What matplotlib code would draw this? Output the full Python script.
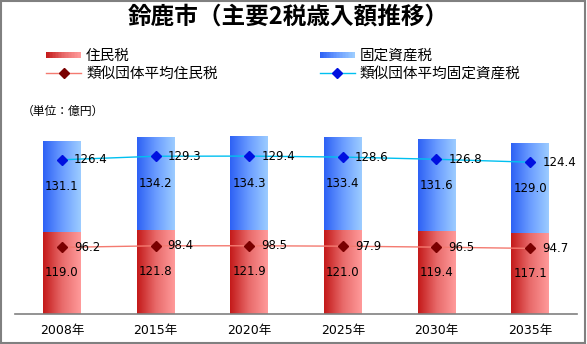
import numpy as np
import matplotlib
matplotlib.use("Agg")
import matplotlib.pyplot as plt
from matplotlib.patches import Rectangle
from matplotlib.lines import Line2D
from matplotlib.legend_handler import HandlerBase
from matplotlib.colors import LinearSegmentedColormap

plt.rcParams['font.family'] = ['Noto Sans CJK JP', 'DejaVu Sans']
NUM_FONT = ['DejaVu Sans', 'Noto Sans CJK JP']

# --- data (億円) ---
years = ["2008年", "2015年", "2020年", "2025年", "2030年", "2035年"]
juminzei = [119.0, 121.8, 121.9, 121.0, 119.4, 117.1]          # 住民税
koteishisanzei = [131.1, 134.2, 134.3, 133.4, 131.6, 129.0]    # 固定資産税
avg_juminzei = [96.2, 98.4, 98.5, 97.9, 96.5, 94.7]            # 類似団体平均住民税
avg_koteishisanzei = [126.4, 129.3, 129.4, 128.6, 126.8, 124.4]  # 類似団体平均固定資産税

title = "鈴鹿市（主要2税歳入額推移）"
unit_label = "（単位：億円）"

red_cmap = LinearSegmentedColormap.from_list("red_grad", ["#c41a1a", "#e86a6a", "#ff9a9a"])
blue_cmap = LinearSegmentedColormap.from_list("blue_grad", ["#2e62f5", "#6a9cff", "#9cccff"])
red_line = "#f47a70"
red_marker = "#7a0000"
blue_line = "#00c0f0"
blue_marker = "#0010e0"

W, H = 587, 344
fig = plt.figure(figsize=(W / 100, H / 100), dpi=100)
ax = fig.add_axes([15 / W, (H - 314) / H, 562 / W, 194 / H])

x = np.arange(len(years))
bar_w = 0.405
grad = np.linspace(0, 1, 64).reshape(1, -1)


def gradient_bar(ax, xc, bottom, height, cmap):
    ax.imshow(grad, cmap=cmap, aspect="auto", interpolation="bilinear",
              extent=(xc - bar_w / 2, xc + bar_w / 2, bottom, bottom + height),
              origin="lower", zorder=2)


for xi, r, b in zip(x, juminzei, koteishisanzei):
    gradient_bar(ax, xi, 0, r, red_cmap)
    gradient_bar(ax, xi, r, b, blue_cmap)
    ax.text(xi, r / 2, f"{r:.1f}", ha="center", va="center", fontsize=8.5,
            family=NUM_FONT, zorder=5)
    ax.text(xi, r + b / 2, f"{b:.1f}", ha="center", va="center", fontsize=8.5,
            family=NUM_FONT, zorder=5)

# average lines (stacked like the bars)
avg_stack = np.array(avg_juminzei) + np.array(avg_koteishisanzei)
ax.plot(x, avg_juminzei, color=red_line, lw=1.0, marker="D", ms=5.5,
        mfc=red_marker, mec=red_marker, zorder=4)
ax.plot(x, avg_stack, color=blue_line, lw=1.0, marker="D", ms=5.5,
        mfc=blue_marker, mec=blue_marker, zorder=4)
for xi, v in zip(x, avg_juminzei):
    ax.text(xi + 0.13, v, f"{v:.1f}", ha="left", va="center", fontsize=8.5,
            family=NUM_FONT, zorder=5)
for xi, v, s in zip(x, avg_koteishisanzei, avg_stack):
    ax.text(xi + 0.13, s, f"{v:.1f}", ha="left", va="center", fontsize=8.5,
            family=NUM_FONT, zorder=5)

ax.set_xlim(-0.5, len(years) - 0.5)
ax.set_ylim(0, 280)
ax.set_xticks(x)
ax.set_xticklabels(years, fontsize=9, family=NUM_FONT)
ax.tick_params(axis="x", length=0, pad=7)
ax.set_yticks([])
for side in ("top", "left", "right"):
    ax.spines[side].set_visible(False)
ax.spines["bottom"].set_color("#808080")
ax.spines["bottom"].set_linewidth(1.2)
ax.patch.set_alpha(0)


class GradientHandler(HandlerBase):
    def __init__(self, cmap, n=24):
        super().__init__()
        self.cmap = cmap
        self.n = n

    def create_artists(self, legend, orig_handle, xdescent, ydescent,
                       width, height, fontsize, trans):
        arts = []
        h = height * 0.55
        y0 = -ydescent + (height - h) / 2
        step = width / self.n
        for i in range(self.n):
            r = Rectangle((-xdescent + i * step, y0), step * 1.05, h,
                          facecolor=self.cmap(i / (self.n - 1)), edgecolor="none",
                          transform=trans)
            arts.append(r)
        return arts


h_red = Rectangle((0, 0), 1, 1)
h_blue = Rectangle((0, 0), 1, 1)
h_red_avg = Line2D([], [], color=red_line, lw=1.0, marker="D", ms=5.5,
                   mfc=red_marker, mec=red_marker)
h_blue_avg = Line2D([], [], color=blue_line, lw=1.0, marker="D", ms=5.5,
                    mfc=blue_marker, mec=blue_marker)
leg = fig.legend([h_red, h_red_avg, h_blue, h_blue_avg],
                 ["住民税", "類似団体平均住民税", "固定資産税", "類似団体平均固定資産税"],
                 ncol=2, loc="upper left", bbox_to_anchor=(46 / W, 1 - 49 / H),
                 frameon=False, fontsize=10.5, handlelength=2.4, handletextpad=0.35,
                 columnspacing=7.0, labelspacing=0.28, borderpad=0, borderaxespad=0,
                 handler_map={h_red: GradientHandler(red_cmap),
                              h_blue: GradientHandler(blue_cmap)})

fig.text(288 / W, 1 - 17 / H, title, ha="center", va="center",
         fontsize=17, fontweight="bold")
fig.text(22 / W, 1 - 111 / H, unit_label, ha="left", va="center", fontsize=8.5)

fig.patches.append(Rectangle((0.001, 0.003), 0.996, 0.995, transform=fig.transFigure,
                             fill=False, edgecolor="#808080", linewidth=1.5))

fig.savefig("out.png", dpi=100)
